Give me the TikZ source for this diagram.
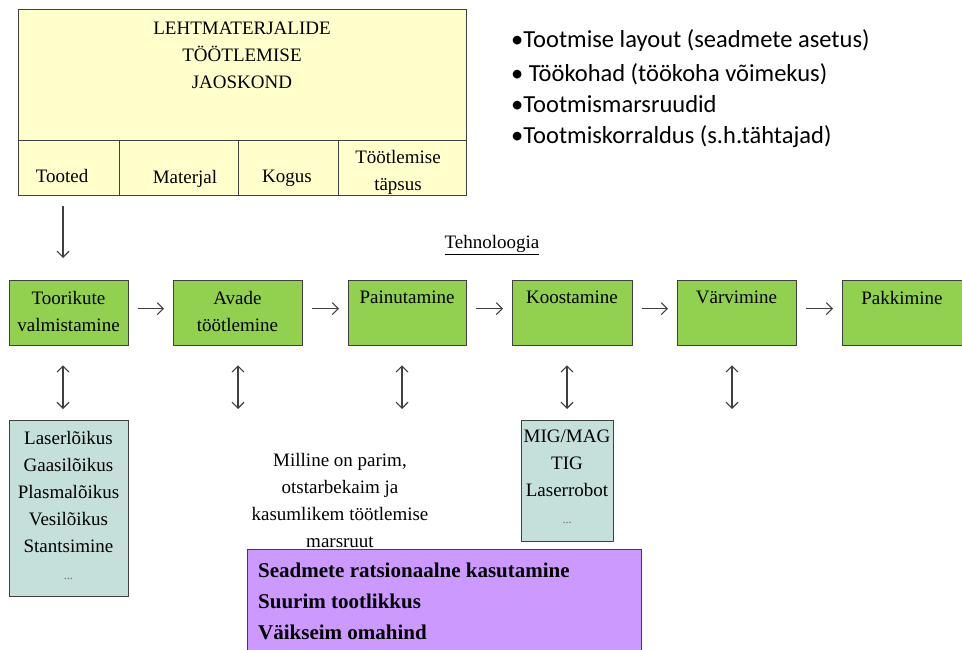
\documentclass[tikz,border=0pt]{standalone}
\usepackage{fontspec}
\setmainfont{Liberation Serif}
\newfontfamily\bulletfont{Carlito}
\usetikzlibrary{arrows.meta}
\definecolor{paleyellow}{HTML}{FFFFCC}
\definecolor{stepgreen}{HTML}{92D050}
\definecolor{toolblue}{HTML}{C5E0DB}
\definecolor{goalpurple}{HTML}{CC99FF}
\definecolor{edge}{HTML}{404040}
\tikzset{
  cell/.style={draw=edge, line width=1.3pt, fill=paleyellow, inner sep=0pt, anchor=north west},
  stepbox/.style={draw=edge, line width=1.3pt, fill=stepgreen, inner sep=0pt, anchor=north west},
  toolbox/.style={draw=edge, line width=1.3pt, fill=toolblue, inner sep=0pt, anchor=north west},
  goalbox/.style={draw=edge, line width=1.3pt, fill=goalpurple, inner sep=0pt, anchor=north west},
  txt/.style={font=\fontsize{19}{27}\selectfont, align=center, inner sep=0pt},
  bul/.style={font=\bulletfont\fontsize{24.5}{30}\selectfont, anchor=west, inner sep=0pt},
  arr/.style={draw=black!75, line width=1.1pt, -{Straight Barb[length=6pt,width=12pt]}},
  dbl/.style={draw=black!75, line width=1.1pt, {Straight Barb[length=6pt,width=12pt]}-{Straight Barb[length=6pt,width=12pt]}},
}
\begin{document}
\begin{tikzpicture}[x=1pt,y=-1pt]
\useasboundingbox (0,0) rectangle (962,650);
\fill[white] (0,0) rectangle (962,650);

% department header box and its four cells
\node[cell, minimum width=448pt, minimum height=131pt] (dept) at (18,9) {};
\node[cell, minimum width=101pt, minimum height=55pt] (tooted) at (18,140) {};
\node[cell, minimum width=119pt, minimum height=55pt] (materjal) at (119,140) {};
\node[cell, minimum width=100pt, minimum height=55pt] (kogus) at (238,140) {};
\node[cell, minimum width=128pt, minimum height=55pt] (tapsus) at (338,140) {};
\node[txt] (depttxt) at (242,55) {LEHTMATERJALIDE\\TÖÖTLEMISE\\JAOSKOND};
\node[txt] (tootedtxt) at (62,176) {Tooted};
\node[txt] (materjaltxt) at (185,179) {Materjal};
\node[txt] (kogustxt) at (287,178) {Kogus};
\node[txt] (tapsustxt) at (398,172) {Töötlemise\\täpsus};

% bullet list
\node[bul] (li1) at (511,41) {•Tootmise layout (seadmete asetus)};
\node[bul] (li2) at (511,74) {• Töökohad (töökoha võimekus)};
\node[bul] (li3) at (511,104) {•Tootmismarsruudid};
\node[bul] (li4) at (511,137) {•Tootmiskorraldus (s.h.tähtajad)};

% title of the process chain
\node[txt] (tehno) at (492,245) {\underline{Tehnoloogia}};

% process steps
\node[stepbox, minimum width=119pt, minimum height=65pt] (s1) at (9,280) {};
\node[stepbox, minimum width=129pt, minimum height=65pt] (s2) at (173,280) {};
\node[stepbox, minimum width=118pt, minimum height=65pt] (s3) at (348,280) {};
\node[stepbox, minimum width=120pt, minimum height=65pt] (s4) at (512,280) {};
\node[stepbox, minimum width=119pt, minimum height=65pt] (s5) at (677,280) {};
\node[stepbox, minimum width=130pt, minimum height=65pt] (s6) at (842,280) {};
\node[txt, anchor=north] (s1txt) at (68.5,291) {Toorikute\\valmistamine};
\node[txt, anchor=north] (s2txt) at (237.5,291) {Avade\\töötlemine};
\node[txt, anchor=north] (s3txt) at (407,291) {Painutamine};
\node[txt, anchor=north] (s4txt) at (572,291) {Koostamine};
\node[txt, anchor=north] (s5txt) at (736.5,291) {Värvimine};
\node[txt, anchor=north] (s6txt) at (902,291) {Pakkimine};

% flow between steps
\foreach \a/\b in {s1/s2, s2/s3, s3/s4, s4/s5, s5/s6}
  \draw[arr, shorten <=9pt, shorten >=9pt] ([yshift=4.5pt]\a.east) -- ([yshift=4.5pt]\b.west);

% input from the product cell
\coordinate (in1) at (63,258);
\draw[arr, shorten <=10pt] (tooted.south -| in1) -- (in1);

% tool boxes
\node[toolbox, minimum width=119pt, minimum height=176pt] (tools1) at (9,420) {};
\node[txt] (tools1txt) at (68.5,505) {Laserlõikus\\Gaasilõikus\\Plasmalõikus\\Vesilõikus\\Stantsimine\\\textcolor{black!60}{\fontsize{12}{27}\selectfont...}};
\node[toolbox, minimum width=92pt, minimum height=121pt] (tools4) at (521,420) {};
\node[txt] (tools4txt) at (567,477) {MIG/MAG\\TIG\\Laserrobot\\\textcolor{black!60}{\fontsize{12}{27}\selectfont...}};

% links between steps and their methods
\coordinate (d1) at (63,409);
\coordinate (d2) at (238,409);
\coordinate (d3) at (402,409);
\coordinate (d4) at (567,409);
\coordinate (d5) at (732,409);
\draw[dbl, shorten <=19pt] (s1.south -| d1) -- (d1);
\draw[dbl, shorten <=19pt] (s2.south -| d2) -- (d2);
\draw[dbl, shorten <=19pt] (s3.south -| d3) -- (d3);
\draw[dbl, shorten <=19pt] (s4.south -| d4) -- (d4);
\draw[dbl, shorten <=19pt] (s5.south -| d5) -- (d5);

% question and goals
\node[txt] (question) at (340,500) {Milline on parim,\\otstarbekaim ja\\kasumlikem töötlemise\\marsruut};
\node[goalbox, minimum width=394pt, minimum height=120pt] (goals) at (247,549) {};
\node[font=\bfseries\fontsize{21}{31}\selectfont, anchor=west, inner sep=0pt] (goal1) at (258,570) {Seadmete ratsionaalne kasutamine};
\node[font=\bfseries\fontsize{21}{31}\selectfont, anchor=west, inner sep=0pt] (goal2) at (258,601) {Suurim tootlikkus};
\node[font=\bfseries\fontsize{21}{31}\selectfont, anchor=west, inner sep=0pt] (goal3) at (258,632) {Väikseim omahind};
\end{tikzpicture}
\end{document}
